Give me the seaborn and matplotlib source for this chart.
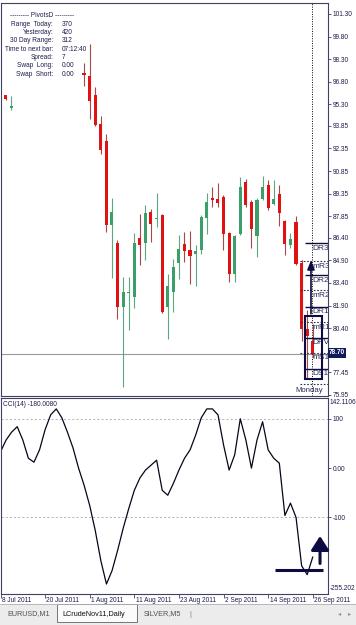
import matplotlib
matplotlib.use("Agg")
import matplotlib.pyplot as plt
from matplotlib.patches import Rectangle
import numpy as np
import pandas as pd
import seaborn as sns

# ----------------------------------------------------------
# Data
# ----------------------------------------------------------

W, H = 356, 625
nan = np.nan

# one entry per daily bar, 8 Jul 2011 .. 26 Sep 2011
BAR_DATES = (
    ["2011-07-08"]
    + [f"2011-07-{d:02d}" for d in (11, 12, 13, 14, 15, 18, 19, 20, 21, 22, 25, 26, 27, 28, 29)]
    + [f"2011-08-{d:02d}" for d in (1, 2, 3, 4, 5, 8, 9, 10, 11, 12, 15, 16, 17, 18, 19,
                                    22, 23, 24, 25, 26, 29, 30, 31)]
    + [f"2011-09-{d:02d}" for d in (1, 2, 5, 6, 7, 8, 9, 12, 13, 14, 15, 16, 19, 20, 21,
                                    22, 23, 26)]
)

OPEN = [nan, 95.90, 95.05] + [nan] * 12 + [
    97.35, 97.19, 95.90, 93.95, 92.83, 87.25, 86.05, 81.83, 82.73, 82.45,
    86.39, 86.05, 88.12, 87.65, 87.90, 81.83, 82.79, 84.72, 86.01, 85.57,
    85.30, 85.57, 87.75, 89.08, 88.97, 89.12, 86.72, 84.01, 86.68, 90.12,
    88.79, 86.50, 89.01, 89.90, 88.63, 89.35, 87.52, 85.95, 87.45, 84.72,
    80.35, 79.57,
]
HIGH = [nan, 95.92, 95.83] + [nan] * 12 + [
    98.05, 99.30, 96.45, 94.50, 93.30, 89.03, 86.23, 83.79, 83.83, 86.70,
    88.01, 88.57, 88.35, 89.39, 87.97, 84.01, 85.01, 86.57, 86.79, 86.83,
    85.90, 87.90, 89.41, 89.79, 90.08, 89.23, 86.77, 86.57, 90.45, 90.35,
    88.90, 89.03, 90.50, 90.23, 90.23, 89.90, 87.57, 86.70, 87.83, 84.90,
    81.61, 80.70,
]
LOW = [nan, 95.57, 94.90] + [nan] * 12 + [
    96.52, 94.30, 93.85, 91.97, 86.79, 83.70, 81.01, 76.50, 80.28, 81.75,
    84.57, 84.95, 86.12, 87.12, 81.40, 79.68, 81.45, 83.68, 84.79, 83.30,
    83.23, 85.35, 86.68, 88.45, 88.45, 85.61, 83.45, 83.45, 86.57, 88.45,
    85.75, 85.12, 88.95, 88.23, 88.57, 87.17, 85.23, 85.70, 84.57, 79.57,
    77.10, 78.45,
]
CLOSE = [nan, 95.65, 95.20] + [nan] * 12 + [
    97.25, 95.50, 93.90, 92.28, 87.23, 88.12, 81.83, 82.83, 82.83, 86.05,
    85.90, 88.05, 87.30, 87.70, 81.45, 83.17, 84.45, 85.68, 85.52, 85.17,
    85.52, 87.79, 88.79, 88.90, 88.72, 86.68, 84.01, 86.50, 89.79, 88.57,
    87.01, 88.95, 89.79, 88.39, 89.01, 88.05, 86.01, 86.35, 84.63, 80.35,
    79.90, 78.70,
]

CCI = [
    33, 57, 73, 84, 57, 20, 12, 37, 78, 108,
    120, 102, 73, 41, 0, -35, -76, -127, -188, -235,
    -208, -167, -122, -82, -45, -20, -4, 6, 16, -45,
    -55, -31, -4, 20, 37, 67, 102, 120, 120, 108,
    47, -4, 27, 100, 57, 0, 57, 94, 37, 20,
    10, -96, -71, -100, -198, -216, -180.008,
]

PRICE_TICKS = [101.30, 99.80, 98.30, 96.80, 95.30, 93.85, 92.35, 90.85, 89.35,
               87.85, 86.40, 84.90, 83.40, 81.90, 80.40, 78.90, 77.45, 75.95]
CCI_TICKS = [100, 0, -100]
CCI_TICK_LABELS = ["100", "0.00", "-100"]
CCI_MAX, CCI_MIN = 142.1106, -255.202

TIME_TICKS = [0, 8, 16, 24, 32, 40, 48, 56]
TIME_LABELS = ["8 Jul 2011", "20 Jul 2011", "1 Aug 2011", "11 Aug 2011",
               "23 Aug 2011", "2 Sep 2011", "14 Sep 2011", "26 Sep 2011"]

PIVOT_NAMES = ["DR3", "mR3", "DR2", "mR2", "DR1", "mR1", "DPV", "mS1", "DS1", "mS2"]
PIVOT_LEVELS = [86.05, 84.83, 83.90, 82.90, 81.83, 80.79, 79.75, 78.77, 77.68, 76.70]

INFO_LABELS = ["Range  Today:", "Yesterday:", "30 Day Range:", "Time to next bar:",
               "Spread:", "Swap  Long:", "Swap  Short:"]
INFO_VALUES = ["370", "420", "312", "07:12:40", "7", "0.00", "0.00"]

LAST_PRICE = 78.70

# ----------------------------------------------------------
# Style
# ----------------------------------------------------------

sns.set_theme(style="white")
plt.rcParams["font.family"] = ["Liberation Sans", "DejaVu Sans"]

FS = 4.7
TXT = "#1c1c4c"
FRAME = "#404060"
NAVY = "#0c0c42"
UP, DOWN = "#3c9e6a", "#e01212"
UP_WICK, DOWN_WICK = "#5aa880", "#a84848"

df = pd.DataFrame({"date": pd.to_datetime(BAR_DATES), "open": OPEN, "high": HIGH,
                   "low": LOW, "close": CLOSE, "cci": CCI})
df["bar"] = np.arange(len(df))
candles = df.dropna(subset=["open"])
rising = candles["close"] >= candles["open"]

fig = plt.figure(figsize=(W / 100, H / 100), dpi=100)
fig.patch.set_facecolor("white")


def ftext(x, y, s, **kw):
    kw.setdefault("fontsize", FS)
    kw.setdefault("color", TXT)
    kw.setdefault("va", "center")
    fig.text(x / W, 1 - y / H, s, **kw)


XLIM = (0.036, 58.64)

# ----------------------------------------------------------
# Price panel
# ----------------------------------------------------------

ax = fig.add_axes([0.5 / W, 1 - 396 / H, 327 / W, 393 / H])
ax.set_xlim(*XLIM)
ax.set_ylim(75.88, 102.03)

ax.vlines(candles["bar"], candles["low"], candles["high"],
          colors=np.where(rising, UP_WICK, DOWN_WICK), linewidth=0.8, zorder=2)
body_lo = np.minimum(candles["open"], candles["close"])
body_h = np.maximum((candles["close"] - candles["open"]).abs(), 0.07)
ax.bar(candles["bar"], body_h, bottom=body_lo, width=0.55,
       color=np.where(rising, UP, DOWN), linewidth=0, zorder=3)

ax.axhline(LAST_PRICE, color="#9a9a9a", linewidth=0.8, zorder=1)
ax.axvline(55.85, color="black", linestyle=(0, (1, 1.5)), linewidth=0.7, zorder=1)

# pivot levels (labels run into the right border, as in the terminal)
for name, lvl in zip(PIVOT_NAMES, PIVOT_LEVELS):
    solid = name[0] == "D"
    ax.hlines(lvl, 54.6 if solid else 53.8, XLIM[1],
              colors=NAVY if solid else "#303050",
              linestyles="-" if solid else (0, (1.5, 1.5)),
              linewidth=1.0 if solid else 0.8, zorder=4)
    if name != "mS2":
        ax.text(56.0, lvl - 0.1, name, fontsize=6.0, color="#2a2a5a",
                va="top", ha="left", clip_on=True, zorder=4)

ax.text(52.9, 76.25, "Monday", fontsize=5.6, color="#2a2a5a",
        va="center", ha="left", clip_on=True, zorder=4)

# hand-drawn box and arrow
ax.add_patch(Rectangle((54.6, 77.03), 3.05, 4.14, fill=False,
                       edgecolor=NAVY, linewidth=1.5, zorder=5))
ax.annotate("", xy=(55.68, 85.1), xytext=(55.68, 81.17),
            arrowprops=dict(arrowstyle="-|>,head_width=0.18,head_length=0.45",
                            color=NAVY, linewidth=1.2), zorder=5)

ax.yaxis.tick_right()
ax.set_yticks(PRICE_TICKS)
# 78.90 sits under the last-price tag
ax.set_yticklabels(["" if p == 78.90 else f"{p:.2f}" for p in PRICE_TICKS])
ax.tick_params(axis="y", right=True, length=2, width=0.6, pad=1.5,
               labelsize=FS, labelcolor=TXT, color=FRAME)
ax.set_xticks([])
for s in ax.spines.values():
    s.set_color(FRAME)
    s.set_linewidth(0.8)

# last price tag
ftext(329, 353, "78.70", color="white", fontweight="bold",
      bbox=dict(facecolor="#101a5c", edgecolor="none", pad=0.9))

# PivotsD info block
ftext(42, 15.7, "--------- PivotsD ---------", ha="center")
for k, (lab, val) in enumerate(zip(INFO_LABELS, INFO_VALUES)):
    y = 24 + k * 8.35
    ftext(53, y, lab, ha="right")
    ftext(62, y, val, ha="left")

# ----------------------------------------------------------
# CCI panel
# ----------------------------------------------------------

ax2 = fig.add_axes([0.5 / W, 1 - 594 / H, 327 / W, 196 / H])
sns.lineplot(data=df, x="bar", y="cci", ax=ax2, color="#06061a", linewidth=0.9)
ax2.set_xlim(*XLIM)
ax2.set_ylim(CCI_MIN, CCI_MAX)
for lvl in (100, -100):
    ax2.axhline(lvl, color="#a8a8a8", linestyle=(0, (2.5, 2.5)), linewidth=0.6, zorder=0)

# marked low and arrow
ax2.hlines(-206, 49.2, 57.8, colors=NAVY, linewidth=2.2, zorder=5)
ax2.annotate("", xy=(57.3, -132), xytext=(57.3, -199),
             arrowprops=dict(arrowstyle="-|>,head_width=0.45,head_length=0.7",
                             color=NAVY, linewidth=2.2), zorder=5)

ax2.yaxis.tick_right()
ax2.set_yticks(CCI_TICKS)
ax2.set_yticklabels(CCI_TICK_LABELS)
ax2.tick_params(axis="y", right=True, length=2, width=0.6, pad=1.5,
                labelsize=FS, labelcolor=TXT, color=FRAME)
ax2.set_xticks(TIME_TICKS)
ax2.set_xticklabels([])
ax2.tick_params(axis="x", bottom=True, length=3, width=0.6, color=FRAME)
ax2.set_xlabel("")
ax2.set_ylabel("")
for s in ax2.spines.values():
    s.set_color(FRAME)
    s.set_linewidth(0.8)

ftext(3, 404, f"CCI(14) {CCI[-1]:.4f}")
ftext(330, 402, f"{CCI_MAX:.4f}")
ftext(330, 589, f"{CCI_MIN:.3f}")

for b, lab in zip(TIME_TICKS, TIME_LABELS):
    px = 0.5 + (b - XLIM[0]) / (XLIM[1] - XLIM[0]) * 327
    ftext(max(px + 1.5, 1), 601, lab, ha="left")

# ----------------------------------------------------------
# Tab bar
# ----------------------------------------------------------

fig.add_artist(Rectangle((0, 0), 1, 21 / H, transform=fig.transFigure,
                         facecolor="#ececec", edgecolor="none"))
fig.add_artist(plt.Line2D([0, 1], [21 / H, 21 / H], transform=fig.transFigure,
                          color="#b0b0b0", linewidth=0.6))
fig.add_artist(Rectangle((57 / W, 3 / H), 80 / W, 18 / H, transform=fig.transFigure,
                         facecolor="#fbfbfb", edgecolor="#606060", linewidth=0.6))
ftext(7, 614, "EURUSD,M1", color="#505050", fontsize=5.2)
ftext(62, 614, "LCrudeNov11,Daily", color="#101010", fontsize=5.2)
ftext(144, 614, "SILVER,M5", color="#505050", fontsize=5.2)
ftext(189, 614, "|", color="#808080", fontsize=5.2)
ftext(338, 614, "\u25c2", color="#909090", fontsize=4.5)
ftext(348, 614, "\u25b8", color="#909090", fontsize=4.5)

fig.savefig("out.png", dpi=100)
